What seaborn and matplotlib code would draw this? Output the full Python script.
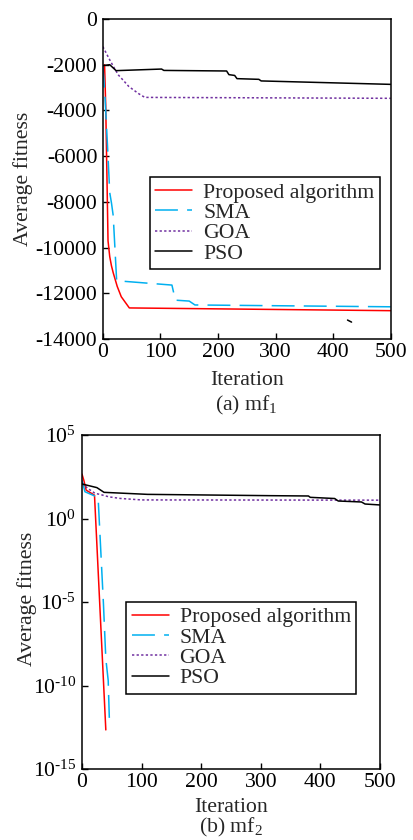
import numpy as np
import pandas as pd
import matplotlib
matplotlib.use("Agg")
import matplotlib.pyplot as plt
import seaborn as sns
from matplotlib.ticker import NullLocator

# ---- data ----
algorithms = ["Proposed algorithm", "SMA", "GOA", "PSO"]

# (a) mf1
prop_a_iter = [3, 5, 7, 9, 12, 15, 18, 25, 32, 46, 500]
prop_a_fit = [-2000, -3800, -6700, -9700, -10400, -10800, -11100, -11700, -12150, -12640, -12760]
sma_a_iter = [0, 4, 8, 12, 15, 18, 24, 120, 126, 150, 160, 500]
sma_a_fit = [-2000, -3500, -5500, -7600, -8050, -8600, -11450, -11640, -12300, -12340, -12510, -12590]
goa_a_iter = [0, 5, 12, 20, 27, 35, 45, 53, 63, 73, 500]
goa_a_fit = [-1210, -1450, -1790, -2150, -2450, -2670, -2950, -3100, -3280, -3430, -3470]
pso_a_iter = [0, 12, 23, 102, 106, 215, 219, 229, 233, 271, 275, 500]
pso_a_fit = [-2040, -2000, -2260, -2190, -2250, -2275, -2435, -2470, -2610, -2640, -2710, -2860]
stray_a_iter = [425, 432]
stray_a_fit = [-13170, -13260]

# (b) mf2
prop_b_iter = [0, 3, 7, 21, 40]
prop_b_fit = [460, 200, 50, 25, 2.2e-13]
sma_b_iter = [0, 5, 22, 27, 36, 40, 44, 46]
sma_b_fit = [200, 40, 22, 20, 8e-6, 4e-9, 2e-10, 8e-13]
goa_b_iter = [0, 10, 22, 30, 45, 64, 100, 500]
goa_b_fit = [126, 63, 32, 28, 20, 16, 13, 12.6]
pso_b_iter = [0, 25, 37, 110, 315, 380, 383, 424, 430, 469, 475, 500]
pso_b_fit = [117, 71, 37, 28, 23.4, 22.4, 18.6, 15.8, 11.2, 9.8, 7.4, 6.5]

a_ticks = [0, -2000, -4000, -6000, -8000, -10000, -12000, -14000]
b_ticks = [1e5, 1e0, 1e-5, 1e-10, 1e-15]
b_ticklabels = ["$10^{5}$", "$10^{0}$", r"$10^{\text{-}5}$", r"$10^{\text{-}10}$", r"$10^{\text{-}15}$"]
x_ticks = [0, 100, 200, 300, 400, 500]

palette = {"Proposed algorithm": "#FF0000", "SMA": "#00B0F0", "GOA": "#7030A0", "PSO": "#000000"}
dashes = {"Proposed algorithm": "", "SMA": (15, 6), "GOA": (1.5, 1.5), "PSO": ""}


def long_form(series):
    frames = []
    for name, (it, fit) in series.items():
        frames.append(pd.DataFrame({"Iteration": it, "fitness": fit, "Algorithm": name}))
    return pd.concat(frames, ignore_index=True)


sns.set_theme(style="ticks")
plt.rcParams.update({
    "font.family": ["Liberation Serif", "DejaVu Serif"],
    "mathtext.fontset": "custom",
    "mathtext.rm": "Liberation Serif",
    "mathtext.it": "Liberation Serif:italic",
    "axes.unicode_minus": False,
    "font.size": 15.7,
    "axes.edgecolor": "black",
    "axes.linewidth": 1.1,
    "xtick.direction": "in",
    "ytick.direction": "in",
    "xtick.major.size": 4,
    "ytick.major.size": 4,
    "xtick.major.width": 1.0,
    "ytick.major.width": 1.0,
    "xtick.color": "black",
    "ytick.color": "black",
    "xtick.major.pad": 3,
    "ytick.major.pad": 4,
})

fig = plt.figure(figsize=(4.13, 8.4), dpi=100)
ax_a = fig.add_axes([0.249, 0.5964, 0.697, 0.381])
ax_b = fig.add_axes([0.1985, 0.0845, 0.7215, 0.3976])

df_a = long_form({
    "Proposed algorithm": (prop_a_iter, prop_a_fit),
    "SMA": (sma_a_iter, sma_a_fit),
    "GOA": (goa_a_iter, goa_a_fit),
    "PSO": (pso_a_iter, pso_a_fit),
})
df_b = long_form({
    "Proposed algorithm": (prop_b_iter, prop_b_fit),
    "SMA": (sma_b_iter, sma_b_fit),
    "GOA": (goa_b_iter, goa_b_fit),
    "PSO": (pso_b_iter, pso_b_fit),
})

for ax, df in [(ax_a, df_a), (ax_b, df_b)]:
    sns.lineplot(data=df, x="Iteration", y="fitness", hue="Algorithm", style="Algorithm",
                 hue_order=algorithms, style_order=algorithms, palette=palette,
                 dashes=dashes, estimator=None, sort=False, linewidth=1.1, ax=ax)

# small stray stroke visible in the original panel (a)
sns.lineplot(x=stray_a_iter, y=stray_a_fit, color="black", linewidth=1.1, legend=False, ax=ax_a)

# panel (a) axes
ax_a.set_xlim(0, 500)
ax_a.set_ylim(-14000, 0)
ax_a.set_yticks(a_ticks)
ax_a.set_yticklabels([str(t) for t in a_ticks])

# panel (b) axes
ax_b.set_yscale("log")
ax_b.set_xlim(0, 500)
ax_b.set_ylim(1e-15, 1e5)
ax_b.set_yticks(b_ticks)
ax_b.set_yticklabels(b_ticklabels)
ax_b.yaxis.set_minor_locator(NullLocator())

for ax, ylab_x, ylab_y, xlab_y, cap_y, caption in [
    (ax_a, -0.243, 0.50, -0.144, -0.222, "(a) mf$_1$"),
    (ax_b, -0.152, 0.51, -0.128, -0.189, "(b) mf$_2$"),
]:
    ax.set_xticks(x_ticks)
    ax.tick_params(labelsize=15.7, top=False, right=False)
    ax.set_xlabel("Iteration", fontsize=15.7, va="baseline")
    ax.set_ylabel("Average fitness", fontsize=15.7)
    ax.xaxis.set_label_coords(0.5, xlab_y)
    ax.yaxis.set_label_coords(ylab_x, ylab_y)
    ax.text(0.5, cap_y, caption, transform=ax.transAxes, ha="center", va="baseline", fontsize=15.7)
    for s in ax.spines.values():
        s.set_visible(True)
        s.set_color("black")

leg_pos = {ax_a: (0.163, 0.506), ax_b: (0.148, 0.501)}
for ax in (ax_a, ax_b):
    handles, labels = ax.get_legend_handles_labels()
    leg = ax.legend(handles[:4], labels[:4], loc="upper left", bbox_to_anchor=leg_pos[ax],
                    borderaxespad=0, fancybox=False, edgecolor="black", framealpha=1,
                    handlelength=1.7, handletextpad=0.5, labelspacing=0.0,
                    borderpad=0.25, fontsize=15.7)
    leg.get_frame().set_linewidth(1.1)

fig.savefig("out.png", dpi=100)
